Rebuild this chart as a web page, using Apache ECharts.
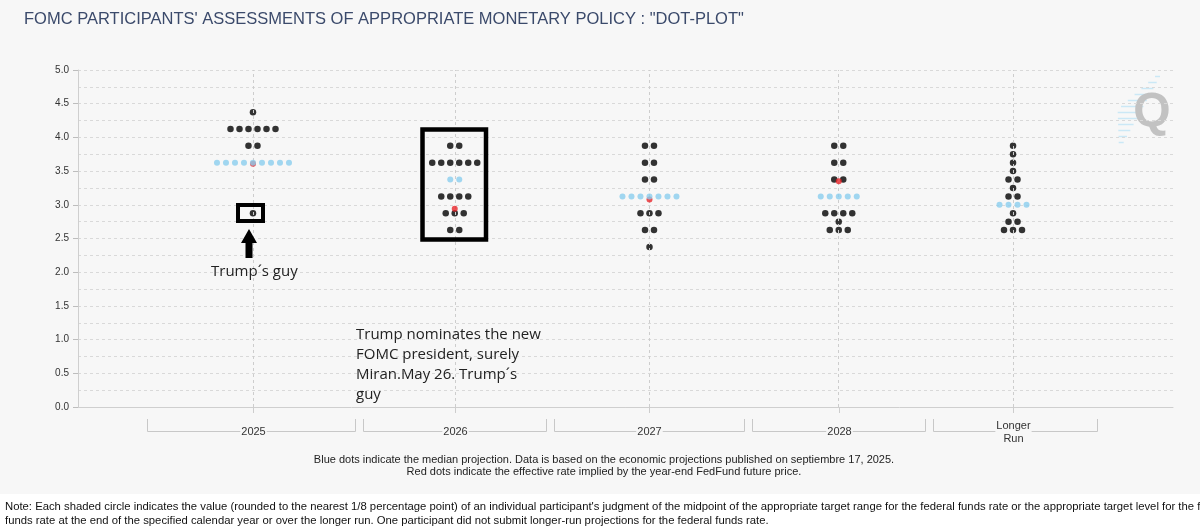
<!DOCTYPE html>
<html><head><meta charset="utf-8">
<script src="https://cdn.jsdelivr.net/npm/echarts@6/dist/echarts.min.js"></script>
<style>html,body{margin:0;padding:0;background:#f7f7f7}#c{width:1200px;height:532px}</style>
</head><body><div id="c"></div>
<script>
// ---- data ----
const categories = ['2025', '2026', '2027', '2028', 'Longer\nRun'];
// [rate, number of participants]
const dots2025 = [[4.375, 1], [4.125, 6], [3.875, 2], [3.625, 9], [2.875, 1]];
const dots2026 = [[3.875, 2], [3.625, 6], [3.375, 2], [3.125, 4], [2.875, 3], [2.625, 2]];
const dots2027 = [[3.875, 2], [3.625, 2], [3.375, 2], [3.125, 7], [2.875, 3], [2.625, 2], [2.375, 1]];
const dots2028 = [[3.875, 2], [3.625, 2], [3.375, 2], [3.125, 5], [2.875, 4], [2.75, 1], [2.625, 3]];
const dotsLonger = [[3.875, 1], [3.75, 1], [3.625, 1], [3.5, 1], [3.375, 2], [3.25, 1], [3.125, 2], [3.0, 4], [2.875, 1], [2.75, 2], [2.625, 3]];
const medianRate = [3.625, 3.375, 3.125, 3.125, 3.0];
const futuresRate = [3.61, 2.94, 3.08, 3.35, null];
const yTickValues = [0, 0.5, 1, 1.5, 2, 2.5, 3, 3.5, 4, 4.5, 5];

// ---- layout (x axis is 0..100, bands of each category) ----
const bandEdges = [6.3, 25.66, 43.15, 61.23, 77.72, 93.06];
const catPos = categories.map((c, i) => (bandEdges[i] + bandEdges[i + 1]) / 2);
const DOT_STEP = 9;

const allDots = [dots2025, dots2026, dots2027, dots2028, dotsLonger];
const blackData = [], blueData = [], redData = [];
allDots.forEach((rows, i) => {
  rows.forEach(([v, n]) => {
    for (let k = 0; k < n; k++) {
      const item = { value: [catPos[i], v], symbolOffset: [(k - (n - 1) / 2) * DOT_STEP, 0] };
      (v === medianRate[i] ? blueData : blackData).push(item);
    }
  });
  if (futuresRate[i] != null) redData.push([catPos[i], futuresRate[i]]);
});

const chart = echarts.init(document.getElementById('c'), null, { renderer: 'canvas' });
const BG = '#f7f7f7';
const GRID_C = '#d9d9d9';

// decorative streaks for watermark
const streaks = [];
for (let j = 0; j < 12; j++) {
  const y = 76 + j * 6;
  const xr = 1160 - j * 3.3;
  const len = 5 + Math.min(j, 11 - j) * 3.5;
  streaks.push({ type: 'line', silent: true, shape: { x1: xr - len, y1: y + 0.5, x2: xr, y2: y + 0.5 }, style: { stroke: '#cbe8f6', lineWidth: 1.5 } });
}

chart.setOption({
  backgroundColor: BG,
  animation: false,
  grid: { left: 78, right: 27, top: 70, bottom: 125, outerBoundsMode: 'none' },
  xAxis: {
    type: 'value', min: 0, max: 100,
    axisLine: { show: true, onZero: false, lineStyle: { color: '#cfcfcf', width: 1 } },
    axisTick: { show: false }, axisLabel: { show: false }, splitLine: { show: false }
  },
  yAxis: {
    type: 'value', min: 0, max: 5, interval: 0.5,
    axisLine: { show: true, lineStyle: { color: '#cfcfcf' } },
    axisTick: { show: true, length: 5, lineStyle: { color: '#bdbdbd' } },
    axisLabel: { color: '#333', fontSize: 10, fontFamily: 'Liberation Sans', margin: 9,
      formatter: v => yTickValues.includes(v) ? v.toFixed(1) : '' },
    splitLine: { show: true, lineStyle: { color: GRID_C, type: [3, 3] } },
    minorTick: { show: false, splitNumber: 2 },
    minorSplitLine: { show: true, lineStyle: { color: GRID_C, type: [3, 3] } }
  },
  series: [
    {
      type: 'scatter', name: 'participants', z: 2, symbol: 'circle', symbolSize: 6.5,
      itemStyle: { color: '#000' }, data: blackData, silent: true,
      markLine: {
        silent: true, z: 5, symbol: ['none', 'none'], label: { show: false },
        lineStyle: { color: '#cdcdcd', type: [3, 3], width: 1 },
        data: catPos.map(p => ({ xAxis: p }))
      }
    },
    { type: 'scatter', name: 'futures', z: 6, symbol: 'circle', symbolSize: 6,
      itemStyle: { color: '#e8262b' }, data: redData, silent: true },
    { type: 'scatter', name: 'median', z: 7, symbol: 'circle', symbolSize: 6,
      itemStyle: { color: '#89cdee' }, data: blueData, silent: true },
    {
      type: 'custom', name: 'brackets', clip: false, silent: true, z: 3,
      data: catPos.map((p, i) => [p, 0, i]),
      encode: { x: 0, y: 1 },
      renderItem: (params, api) => {
        const i = api.value(2);
        const c = api.coord([catPos[i], 0]);
        const cx = Math.round(c[0]) + 0.5, y0 = Math.round(c[1]);
        const l = Math.round(api.coord([bandEdges[i], 0])[0] + (i > 0 ? 4 : 0)) + 0.5;
        const r = Math.round(api.coord([bandEdges[i + 1], 0])[0] - (i < categories.length - 1 ? 4 : 0)) + 0.5;
        return {
          type: 'group', children: [
            { type: 'line', shape: { x1: cx, y1: y0, x2: cx, y2: y0 + 6 }, style: { stroke: '#cdcdcd', lineWidth: 1 } },
            { type: 'polyline', shape: { points: [[l, y0 + 12], [l, y0 + 24.5], [r, y0 + 24.5], [r, y0 + 12]] }, style: { stroke: '#c8c8c8', lineWidth: 1, fill: null } },
            { type: 'text', x: cx, y: y0 + 25, style: { text: categories[i], align: 'center', verticalAlign: 'middle',
              fill: '#333', font: '11px "Liberation Sans"', lineHeight: 13, backgroundColor: BG, padding: [0, 1] } }
          ]
        };
      }
    }
  ],
  graphic: [
    { type: 'rect', silent: true, shape: { x: 0, y: 494, width: 1200, height: 38 }, style: { fill: '#ffffff' } },
    { type: 'text', silent: true, x: 24, y: 19, style: { text: 'FOMC PARTICIPANTS\' ASSESSMENTS OF APPROPRIATE MONETARY POLICY : "DOT-PLOT"',
      font: '16.5px "Liberation Sans"', fill: '#3b4a6b', verticalAlign: 'middle' } },
    ...streaks,
    { type: 'text', silent: true, x: 1152, y: 113, style: { text: 'Q', font: 'bold 48px "Liberation Sans"', fill: '#c2c2c2', align: 'center', verticalAlign: 'middle' } },
    // annotation boxes and arrow
    { type: 'rect', silent: true, z: 20, shape: { x: 238, y: 205, width: 25, height: 16 }, style: { fill: null, stroke: '#000', lineWidth: 4 } },
    { type: 'rect', silent: true, z: 20, shape: { x: 422.5, y: 129.5, width: 63.5, height: 110 }, style: { fill: null, stroke: '#000', lineWidth: 4.5 } },
    { type: 'polygon', silent: true, z: 20, shape: { points: [[249, 229], [257, 243], [252.5, 243], [252.5, 258], [245.5, 258], [245.5, 243], [241, 243]] }, style: { fill: '#000' } },
    { type: 'text', silent: true, z: 20, x: 211, y: 272, style: { text: 'Trump´s guy', font: '15px "Open Sans"', fill: '#222', verticalAlign: 'middle' } },
    { type: 'text', silent: true, z: 20, x: 356, y: 325, style: { text: 'Trump nominates the new\nFOMC president, surely\nMiran.May 26. Trump´s\nguy',
      font: '15px "Open Sans"', fill: '#222', lineHeight: 20, verticalAlign: 'top' } },
    // footnotes
    { type: 'text', silent: true, x: 604, y: 460, style: { text: 'Blue dots indicate the median projection. Data is based on the economic projections published on septiembre 17, 2025.',
      font: '11px "Liberation Sans"', fill: '#222', align: 'center', verticalAlign: 'middle' } },
    { type: 'text', silent: true, x: 604, y: 472, style: { text: 'Red dots indicate the effective rate implied by the year-end FedFund future price.',
      font: '11px "Liberation Sans"', fill: '#222', align: 'center', verticalAlign: 'middle' } },
    { type: 'text', silent: true, x: 5, y: 507, style: { text: 'Note: Each shaded circle indicates the value (rounded to the nearest 1/8 percentage point) of an individual participant\'s judgment of the midpoint of the appropriate target range for the federal funds rate or the appropriate target level for the federal',
      font: '11.3px "Liberation Sans"', fill: '#111', verticalAlign: 'middle' } },
    { type: 'text', silent: true, x: 5, y: 521, style: { text: 'funds rate at the end of the specified calendar year or over the longer run. One participant did not submit longer-run projections for the federal funds rate.',
      font: '11.3px "Liberation Sans"', fill: '#111', verticalAlign: 'middle' } }
  ]
});
</script>
</body></html>
